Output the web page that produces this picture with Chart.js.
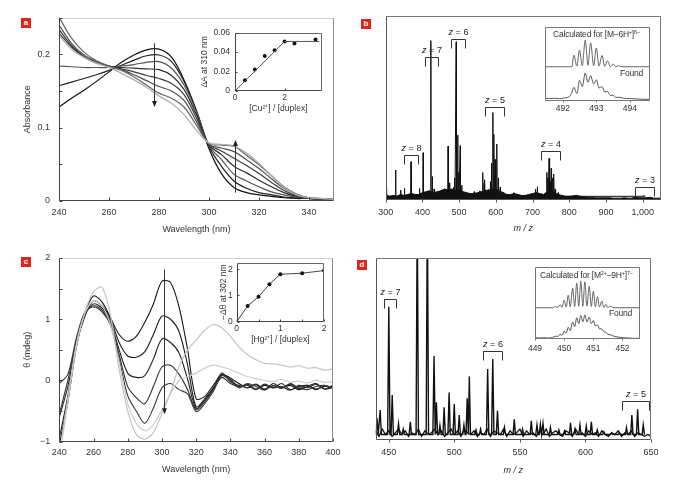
<!DOCTYPE html>
<html>
<head>
<meta charset="utf-8">
<script src="https://cdn.jsdelivr.net/npm/chart.js@4.4.1/dist/chart.umd.min.js"></script>
<style>
  body { margin: 0; background: #fff; }
  #page { position: relative; width: 685px; height: 496px; overflow: hidden; color: #333;
          font-family: 'Liberation Sans Narrow', 'Liberation Sans', Arial, sans-serif; }
  #page canvas { position: absolute; left: 0; top: 0; }
  .tag { position: absolute; width: 10px; height: 10px; background: #e2231a; color: #fff;
         font: bold 8px 'Liberation Sans', Arial, sans-serif; text-align: center; line-height: 10px; }
  .note { position: absolute; font-size: 8.5px; line-height: 10px; white-space: nowrap; letter-spacing: -0.2px; }
  .note sup { font-size: 5.5px; vertical-align: 3px; line-height: 0; }
</style>
</head>
<body>
<div id="page">
  <canvas id="chartA" width="685" height="496"></canvas>
  <canvas id="chartB" width="685" height="496"></canvas>
  <canvas id="chartC" width="685" height="496"></canvas>
  <canvas id="chartD" width="685" height="496"></canvas>
  <canvas id="insetA" width="685" height="496"></canvas>
  <canvas id="insetB" width="685" height="496"></canvas>
  <canvas id="insetC" width="685" height="496"></canvas>
  <canvas id="insetD" width="685" height="496"></canvas>

  <div class="tag" style="left:21px; top:18px;">a</div>
  <div class="tag" style="left:361px; top:19px;">b</div>
  <div class="tag" style="left:21px; top:257px;">c</div>
  <div class="tag" style="left:357px; top:260px;">d</div>

  <div class="note" style="left:553px; top:29px;">Calculated for [M&ndash;6H<sup>+</sup>]<sup>6&ndash;</sup></div>
  <div class="note" style="right:42px; top:68px;">Found</div>
  <div class="note" style="left:540px; top:270px;">Calculated for [M<sup>2+</sup>&ndash;9H<sup>+</sup>]<sup>7&ndash;</sup></div>
  <div class="note" style="right:53px; top:308px;">Found</div>
</div>

<script>
const W = 685, H = 496;
const FONT = "'Liberation Sans Narrow', 'Liberation Sans', Arial, sans-serif";

// ---------- panel a: UV titration ----------
const wlA = [240, 245, 250, 255, 260, 265, 270, 275, 280, 285, 290, 295, 300, 305, 310, 315, 320, 325, 330, 335, 340, 345, 350];
const absA1 = [0.128, 0.140, 0.151, 0.163, 0.176, 0.189, 0.199, 0.206, 0.207, 0.196, 0.165, 0.122, 0.071, 0.037, 0.018, 0.011, 0.008, 0.006, 0.004, 0.003, 0.003, 0.002, 0.002];
const absA2 = [0.157, 0.162, 0.167, 0.172, 0.178, 0.185, 0.192, 0.198, 0.199, 0.190, 0.163, 0.123, 0.074, 0.047, 0.027, 0.017, 0.011, 0.008, 0.005, 0.004, 0.003, 0.002, 0.002];
const absA3 = [0.184, 0.183, 0.182, 0.182, 0.182, 0.184, 0.186, 0.189, 0.190, 0.181, 0.158, 0.121, 0.075, 0.056, 0.036, 0.027, 0.019, 0.012, 0.008, 0.005, 0.003, 0.002, 0.002];
const absA4 = [0.234, 0.212, 0.197, 0.189, 0.184, 0.182, 0.181, 0.180, 0.179, 0.171, 0.152, 0.117, 0.076, 0.063, 0.047, 0.038, 0.028, 0.019, 0.011, 0.006, 0.003, 0.002, 0.002];
const absA5 = [0.229, 0.210, 0.196, 0.188, 0.184, 0.180, 0.176, 0.171, 0.167, 0.160, 0.145, 0.113, 0.077, 0.068, 0.058, 0.048, 0.037, 0.025, 0.014, 0.007, 0.004, 0.002, 0.002];
const absA6 = [0.240, 0.215, 0.199, 0.190, 0.184, 0.179, 0.172, 0.164, 0.156, 0.150, 0.137, 0.108, 0.077, 0.072, 0.067, 0.056, 0.044, 0.030, 0.017, 0.008, 0.004, 0.003, 0.002];
const absA7 = [0.251, 0.222, 0.203, 0.191, 0.184, 0.178, 0.169, 0.158, 0.147, 0.140, 0.128, 0.103, 0.078, 0.076, 0.074, 0.062, 0.049, 0.034, 0.019, 0.009, 0.004, 0.003, 0.002];
const absA8 = [0.226, 0.207, 0.196, 0.188, 0.182, 0.174, 0.165, 0.155, 0.143, 0.133, 0.118, 0.096, 0.079, 0.077, 0.075, 0.065, 0.051, 0.034, 0.018, 0.008, 0.004, 0.003, 0.002];
const arrowXA = [278, 310.5];
const arrowFromA = [0.215, 0.011];
const arrowToA = [0.128, 0.083];

// inset a
const cuRatio = [0, 0.4, 0.8, 1.2, 1.6, 2.0, 2.4, 3.25];
const cuDeltaA = [0, 0.011, 0.022, 0.036, 0.042, 0.051, 0.049, 0.053];
const cuFitX = [0, 2, 3.4];
const cuFitY = [0, 0.051, 0.051];

// ---------- panel b: ESI mass spectrum ----------
const peakMzB = [302, 327, 341, 351, 369, 380, 392, 402, 415, 423, 427, 432, 446, 455, 462, 470, 474, 480, 485, 488, 492, 496, 499, 503, 507, 512, 520, 541, 556, 564, 568, 570, 585, 588, 592, 595, 598, 600, 603, 607, 612, 620, 649, 660, 708, 713, 739, 742, 745, 748, 751, 755, 758, 762, 770, 820, 996, 1003, 1008];
const peakIntB = [0.07, 0.163, 0.054, 0.063, 0.208, 0.03, 0.063, 0.257, 0.05, 0.866, 0.127, 0.06, 0.035, 0.04, 0.05, 0.293, 0.094, 0.06, 0.07, 0.12, 0.86, 0.353, 0.15, 0.295, 0.08, 0.045, 0.04, 0.045, 0.05, 0.149, 0.09, 0.11, 0.10, 0.20, 0.475, 0.357, 0.22, 0.18, 0.304, 0.12, 0.07, 0.04, 0.04, 0.03, 0.058, 0.072, 0.15, 0.12, 0.226, 0.10, 0.172, 0.12, 0.141, 0.06, 0.04, 0.018, 0.022, 0.025, 0.02];
const baseStartB = 300, baseStepB = 10;
const baseB = [0.03, 0.02, 0.025, 0.02, 0.03, 0.025, 0.03, 0.035, 0.03, 0.03,
               0.04, 0.045, 0.05, 0.04, 0.045, 0.05, 0.06, 0.055, 0.06, 0.05,
               0.055, 0.045, 0.04, 0.035, 0.035, 0.04, 0.045, 0.05, 0.055, 0.06,
               0.06, 0.05, 0.04, 0.03, 0.03, 0.035, 0.03, 0.025, 0.025, 0.03,
               0.035, 0.04, 0.035, 0.03, 0.045, 0.05, 0.04, 0.03, 0.025, 0.02,
               0.02, 0.022, 0.025, 0.02, 0.018, 0.015, 0.015, 0.012, 0.012, 0.012,
               0.012, 0.012, 0.01, 0.01, 0.01, 0.012, 0.01, 0.01, 0.015, 0.012,
               0.012, 0.012, 0.015, 0.01, 0.01, 0.01];
const zB = ['8', '7', '6', '5', '4', '3'];
const zFromB = [350, 408, 479, 570, 723, 980];
const zToB = [387, 442, 515, 622, 775, 1032];
const zTopB = [0.245, 0.779, 0.873, 0.504, 0.268, 0.072];

// inset b (upper half: calculated, lower half: found)
const calcMzB = [491.4, 492.2, 492.27, 492.33, 492.42, 492.50, 492.58, 492.67, 492.75, 492.83, 492.92, 493.00, 493.08, 493.17, 493.25, 493.33, 493.42, 493.50, 493.58, 493.67, 493.75, 494.7];
const calcIntB = [1, 1, 1.0, 1.34, 1.02, 1.49, 1.03, 1.78, 1.04, 1.70, 1.03, 1.55, 1.02, 1.33, 1.01, 1.18, 1.0, 1.08, 1.0, 1.03, 1, 1];
const foundMzB = [491.47, 491.6, 491.75, 491.9, 492.05, 492.2, 492.27, 492.33, 492.42, 492.50, 492.58, 492.67, 492.75, 492.83, 492.92, 493.00, 493.08, 493.17, 493.25, 493.33, 493.42, 493.50, 493.58, 493.67, 493.8, 494.0, 494.2, 494.4, 494.6];
const foundIntB = [0.08, 0.07, 0.08, 0.07, 0.09, 0.13, 0.25, 0.40, 0.22, 0.60, 0.42, 0.82, 0.55, 0.74, 0.50, 0.62, 0.38, 0.42, 0.26, 0.28, 0.16, 0.17, 0.10, 0.11, 0.08, 0.07, 0.06, 0.05, 0.05];

// ---------- panel c: CD titration ----------
const wlC = [240, 245, 250, 255, 260, 265, 270, 275, 280, 285, 290, 295, 300, 305, 310, 315, 320, 325, 330, 335, 340, 345, 350, 355, 360, 365, 370, 375, 380, 385, 390, 395, 400];
const cdC1 = [-1.05, -0.35, 0.55, 1.10, 1.38, 1.28, 1.02, 0.75, 0.64, 0.72, 0.95, 1.25, 1.62, 1.60, 1.20, 0.50, -0.30, -0.26, -0.08, 0.10, 0.04, -0.05, -0.12, -0.07, -0.15, -0.05, -0.12, -0.08, -0.15, -0.10, -0.05, -0.14, -0.08];
const cdC2 = [-0.95, -0.25, 0.58, 1.05, 1.30, 1.22, 1.00, 0.62, 0.40, 0.38, 0.47, 0.75, 1.05, 1.00, 0.80, 0.25, -0.43, -0.30, -0.12, 0.08, 0.02, -0.10, -0.06, -0.14, -0.08, -0.12, -0.05, -0.15, -0.10, -0.08, -0.14, -0.10, -0.12];
const cdC3 = [-0.60, -0.10, 0.62, 1.08, 1.25, 1.18, 0.95, 0.50, 0.12, 0.05, 0.08, 0.35, 0.68, 0.62, 0.45, 0.02, -0.46, -0.32, -0.15, 0.12, -0.02, -0.08, -0.12, -0.06, -0.14, -0.09, -0.12, -0.06, -0.13, -0.08, -0.15, -0.09, -0.11];
const cdC4 = [-0.55, 0.00, 0.65, 1.10, 1.22, 1.15, 0.92, 0.42, -0.10, -0.28, -0.38, -0.10, 0.22, 0.25, 0.10, -0.15, -0.48, -0.35, -0.15, 0.05, -0.05, -0.10, -0.08, -0.15, -0.06, -0.12, -0.10, -0.16, -0.08, -0.12, -0.06, -0.14, -0.12];
const cdC5 = [-0.05, 0.10, 0.70, 1.12, 1.20, 1.12, 0.90, 0.35, -0.25, -0.50, -0.70, -0.45, -0.12, -0.05, -0.15, -0.22, -0.51, -0.38, -0.18, 0.08, 0.00, -0.12, -0.05, -0.10, -0.16, -0.08, -0.13, -0.05, -0.12, -0.15, -0.10, -0.08, -0.12];
const cdC6 = [-1.20, -0.30, 0.60, 1.10, 1.30, 1.22, 0.90, 0.30, -0.38, -0.70, -0.82, -0.72, -0.48, -0.21, 0.00, 0.06, 0.12, 0.20, 0.25, 0.22, 0.18, 0.12, 0.06, 0.03, 0.00, -0.02, 0.02, -0.03, -0.01, -0.04, 0.00, -0.03, -0.02];
const cdC7 = [-1.30, -0.35, 0.55, 1.12, 1.45, 1.52, 1.05, 0.18, -0.50, -0.88, -0.96, -0.85, -0.54, -0.20, 0.23, 0.50, 0.66, 0.82, 0.91, 0.86, 0.72, 0.55, 0.42, 0.34, 0.28, 0.27, 0.25, 0.22, 0.24, 0.20, 0.21, 0.17, 0.19];
const arrowXC = [301];
const arrowFromC = [1.81];
const arrowToC = [-0.55];

// inset c
const hgRatio = [0, 0.25, 0.5, 0.75, 1, 1.5, 2];
const hgDeltaTheta = [0, 0.6, 0.95, 1.43, 1.81, 1.85, 1.95];

// ---------- panel d: ESI mass spectrum with Hg ----------
const peakMzD = [441, 443.4, 450, 452.6, 457.4, 461, 466.4, 471.7, 479.4, 484.5, 486.3, 489, 492.2, 496, 499.9, 503.7, 507.3, 509.8, 511.4, 516.5, 520, 525.4, 529.3, 532.9, 538.2, 545.7, 552, 558.7, 563, 565.6, 567.6, 573.3, 579.7, 584, 588.6, 592, 595.8, 600.6, 604.5, 609, 614, 620, 626, 631.3, 635.4, 639.8, 644.1];
const peakIntD = [0.12, 0.165, 0.734, 0.248, 0.09, 0.06, 0.10, 1.3, 1.3, 0.462, 0.207, 0.08, 0.18, 0.262, 0.198, 0.138, 0.083, 0.229, 0.349, 0.055, 0.06, 0.39, 0.446, 0.161, 0.07, 0.114, 0.06, 0.105, 0.083, 0.086, 0.092, 0.07, 0.055, 0.05, 0.095, 0.06, 0.083, 0.077, 0.10, 0.055, 0.045, 0.04, 0.04, 0.068, 0.138, 0.169, 0.083];
const baseStartD = 440, baseStepD = 2.5;
const baseD = [0.05, 0.02, 0.06, 0.03, 0.05, 0.02, 0.04, 0.06, 0.03, 0.05,
               0.02, 0.04, 0.03, 0.06, 0.02, 0.05, 0.03, 0.04, 0.06, 0.03,
               0.05, 0.02, 0.04, 0.06, 0.03, 0.05, 0.02, 0.06, 0.04, 0.03,
               0.05, 0.02, 0.04, 0.03, 0.06, 0.02, 0.05, 0.04, 0.03, 0.06,
               0.02, 0.05, 0.03, 0.04, 0.06, 0.02, 0.05, 0.03, 0.04, 0.02,
               0.05, 0.03, 0.06, 0.02, 0.04, 0.05, 0.03, 0.02, 0.05, 0.04,
               0.02, 0.06, 0.03, 0.04, 0.02, 0.05, 0.03, 0.04, 0.02, 0.05,
               0.03, 0.02, 0.04, 0.03, 0.05, 0.02, 0.04, 0.03, 0.05, 0.02,
               0.04, 0.03, 0.02, 0.03, 0.02];
const zD = ['7', '6', '5'];
const zFromD = [446.7, 522, 627.5];
const zToD = [455.6, 536.7, 648.7];
const zTopD = [0.774, 0.49, 0.215];

// inset d
const calcMzD = [448.9, 449.6, 449.71, 449.78, 449.86, 449.93, 450.00, 450.07, 450.14, 450.21, 450.29, 450.36, 450.43, 450.50, 450.57, 450.64, 450.71, 450.78, 450.86, 450.93, 451.00, 451.07, 451.14, 451.21, 451.29, 451.36, 451.43, 451.50, 451.57, 451.7, 452.7];
const calcIntD = [1, 1, 1.04, 1.0, 1.10, 1.01, 1.24, 1.02, 1.40, 1.03, 1.62, 1.04, 1.78, 1.05, 1.84, 1.05, 1.82, 1.05, 1.68, 1.04, 1.52, 1.03, 1.35, 1.02, 1.21, 1.01, 1.11, 1.0, 1.05, 1, 1];
const foundMzD = [449.0, 449.15, 449.3, 449.45, 449.6, 449.71, 449.78, 449.86, 449.93, 450.00, 450.07, 450.14, 450.21, 450.29, 450.36, 450.43, 450.50, 450.57, 450.64, 450.71, 450.78, 450.86, 450.93, 451.00, 451.07, 451.14, 451.21, 451.29, 451.36, 451.43, 451.50, 451.57, 451.7, 451.85, 452.0, 452.2, 452.4, 452.6];
const foundIntD = [0.06, 0.04, 0.05, 0.04, 0.06, 0.10, 0.09, 0.16, 0.13, 0.26, 0.20, 0.38, 0.28, 0.55, 0.40, 0.68, 0.50, 0.76, 0.55, 0.77, 0.55, 0.70, 0.50, 0.60, 0.42, 0.46, 0.33, 0.33, 0.24, 0.22, 0.16, 0.15, 0.10, 0.07, 0.05, 0.04, 0.03, 0.03];

// ---------- helpers ----------
function xy(xs, ys) {
  return xs.map((x, i) => ({ x: x, y: ys[i] }));
}

// each mass peak drawn as a narrow spike rising from the baseline
function spikes(centers, heights, half, foot) {
  const pts = [];
  centers.forEach((c, i) => {
    pts.push({ x: c - half, y: foot }, { x: c, y: heights[i] }, { x: c + half, y: foot });
  });
  return pts;
}

function grid(start, step, values) {
  return values.map((v, i) => ({ x: start + i * step, y: v }));
}

function line(data, color, width, extra) {
  return Object.assign({ data: data, borderColor: color, borderWidth: width, pointRadius: 0, fill: false }, extra || {});
}

function axis(o) {
  return {
    type: 'linear', min: o.min, max: o.max, display: o.display !== false,
    afterFit: s => { if (o.horizontal) s.height = o.size; else s.width = o.size; },
    grid: { display: false, drawTicks: false },
    border: { display: false },
    ticks: {
      stepSize: o.step, includeBounds: false, autoSkip: false, maxRotation: 0,
      padding: o.pad, color: '#333', font: { family: FONT, size: o.fs },
      callback: o.fmt
    },
    title: {
      display: !!o.title, text: o.title, color: '#333', padding: 0,
      font: { family: FONT, size: o.fs, style: o.italic ? 'italic' : 'normal' }
    }
  };
}

// draws the plot frame and the tick marks from the scale ticks
const framePlugin = {
  id: 'frame',
  afterDatasetsDraw(chart, args, o) {
    const { ctx, chartArea: a, scales } = chart;
    const L = Math.round(a.left) + 0.5, R = Math.round(a.right) - 0.5;
    const T = Math.round(a.top) + 0.5, B = Math.round(a.bottom) - 0.5;
    ctx.save();
    ctx.lineWidth = 1;
    ctx.strokeStyle = o.topColor || o.boxColor;
    ctx.beginPath(); ctx.moveTo(L, T); ctx.lineTo(R, T); ctx.stroke();
    ctx.strokeStyle = o.boxColor;
    ctx.beginPath(); ctx.moveTo(R, T); ctx.lineTo(R, B); ctx.stroke();
    ctx.strokeStyle = o.axisColor;
    ctx.beginPath(); ctx.moveTo(L, T); ctx.lineTo(L, B); ctx.lineTo(R, B); ctx.stroke();
    const d = o.inward ? -1 : 1;
    ctx.beginPath();
    scales.x.ticks.forEach(t => {
      const px = Math.round(scales.x.getPixelForValue(t.value)) + 0.5;
      ctx.moveTo(px, B); ctx.lineTo(px, B + d * o.len);
    });
    if (o.yTicks) {
      scales.y.ticks.forEach(t => {
        const py = Math.round(scales.y.getPixelForValue(t.value)) + 0.5;
        ctx.moveTo(L, py); ctx.lineTo(L - d * o.len, py);
      });
    }
    ctx.stroke();
    ctx.restore();
  }
};

// charge-state brackets and titration arrows, placed in data units
const marksPlugin = {
  id: 'marks',
  afterDatasetsDraw(chart, args, o) {
    const { ctx, scales: { x, y } } = chart;
    ctx.save();
    ctx.strokeStyle = '#333';
    ctx.fillStyle = '#222';
    ctx.lineWidth = 1;
    if (o.brackets) {
      const b = o.brackets;
      b.z.forEach((z, i) => {
        const x1 = Math.round(x.getPixelForValue(b.from[i])) + 0.5;
        const x2 = Math.round(x.getPixelForValue(b.to[i])) + 0.5;
        const yt = Math.round(y.getPixelForValue(b.top[i])) + 0.5;
        ctx.beginPath();
        ctx.moveTo(x1, yt + 9); ctx.lineTo(x1, yt); ctx.lineTo(x2, yt); ctx.lineTo(x2, yt + 9);
        ctx.stroke();
        ctx.font = 'italic 9px ' + FONT;
        const w1 = ctx.measureText('z').width;
        ctx.font = '9px ' + FONT;
        const rest = ' = ' + z;
        const w2 = ctx.measureText(rest).width;
        const sx = (x1 + x2) / 2 - (w1 + w2) / 2;
        ctx.textBaseline = 'middle';
        ctx.textAlign = 'left';
        ctx.font = 'italic 9px ' + FONT;
        ctx.fillText('z', sx, yt - 7);
        ctx.font = '9px ' + FONT;
        ctx.fillText(rest, sx + w1, yt - 7);
      });
    }
    if (o.arrows) {
      const r = o.arrows;
      r.x.forEach((xv, i) => {
        const px = Math.round(x.getPixelForValue(xv)) + 0.5;
        const p1 = y.getPixelForValue(r.from[i]);
        const p2 = y.getPixelForValue(r.to[i]);
        const dir = p2 > p1 ? 1 : -1;
        ctx.beginPath(); ctx.moveTo(px, p1); ctx.lineTo(px, p2 - dir * 5); ctx.stroke();
        ctx.beginPath();
        ctx.moveTo(px, p2); ctx.lineTo(px - 2.5, p2 - dir * 6); ctx.lineTo(px + 2.5, p2 - dir * 6);
        ctx.closePath(); ctx.fill();
      });
    }
    ctx.restore();
  }
};

Chart.register(framePlugin, marksPlugin);

function build(id, p, datasets, scaleX, scaleY, frame, marks) {
  return new Chart(document.getElementById(id), {
    type: 'line',
    data: { datasets: datasets },
    options: {
      responsive: false, animation: false, events: [],
      layout: { padding: { left: p.l - p.yw, top: p.t, right: W - p.r, bottom: H - p.b - p.xh } },
      plugins: { legend: { display: false }, tooltip: { enabled: false }, frame: frame, marks: marks || {} },
      scales: { x: scaleX, y: scaleY }
    }
  });
}

const mainFrame = { boxColor: '#8a8a8a', topColor: '#d0d0d0', axisColor: '#444', inward: true, len: 3, yTicks: true };
const specFrame = { boxColor: '#777', axisColor: '#555', inward: false, len: 3, yTicks: false };
const insetFrame = { boxColor: '#666', axisColor: '#444', inward: true, len: 2, yTicks: true };
const insetSpecFrame = { boxColor: '#777', axisColor: '#777', inward: false, len: 2, yTicks: false };

const fmtMinus = v => (v < 0 ? '\u2212' + (-v) : String(v));

// panel a
build('chartA', { l: 59, r: 334, t: 17.7, b: 200.7, yw: 37, xh: 34 },
  [
    line(xy(wlA, absA8), '#b0b0b0', 1.3, { tension: 0.35 }),
    line(xy(wlA, absA7), '#666', 1.2, { tension: 0.35 }),
    line(xy(wlA, absA6), '#4e4e4e', 1.2, { tension: 0.35 }),
    line(xy(wlA, absA5), '#3c3c3c', 1.2, { tension: 0.35 }),
    line(xy(wlA, absA4), '#2e2e2e', 1.2, { tension: 0.35 }),
    line(xy(wlA, absA3), '#555', 1.2, { tension: 0.35 }),
    line(xy(wlA, absA2), '#222', 1.2, { tension: 0.35 }),
    line(xy(wlA, absA1), '#111', 1.2, { tension: 0.35 })
  ],
  axis({ min: 240, max: 350, step: 20, pad: 6, fs: 9, horizontal: true, size: 34, title: 'Wavelength (nm)' }),
  axis({ min: 0, max: 0.25, step: 0.05, pad: 9, fs: 9, size: 37, title: 'Absorbance',
         fmt: v => { const k = Math.round(v * 100); return (k % 10 === 0 && k < 25) ? (k === 0 ? '0' : (k / 100).toFixed(1)) : ''; } }),
  mainFrame,
  { arrows: { x: arrowXA, from: arrowFromA, to: arrowToA } }
);

// inset a
build('insetA', { l: 235, r: 321.7, t: 32.7, b: 91, yw: 35.4, xh: 22.4 },
  [
    line(xy(cuFitX, cuFitY), '#555', 1),
    line(xy(cuRatio, cuDeltaA), '#111', 0, { showLine: false, pointRadius: 2, pointBackgroundColor: '#111', pointBorderWidth: 0 })
  ],
  axis({ min: 0, max: 3.5, step: 2, pad: 1.6, fs: 8.5, horizontal: true, size: 22.4, title: '[Cu\u00b2\u207a] / [duplex]' }),
  axis({ min: 0, max: 0.06, step: 0.02, pad: 5, fs: 8.5, size: 35.4, title: '\u0394A at 310 nm',
         fmt: v => (v === 0 ? '0' : v.toFixed(2)) }),
  insetFrame
);

// panel b
build('chartB', { l: 385.7, r: 661, t: 16, b: 200, yw: 0, xh: 34 },
  [
    line(grid(baseStartB, baseStepB, baseB), '#111', 1, { fill: 'origin', backgroundColor: '#111' }),
    line(spikes(peakMzB, peakIntB, 0.8, 0.02), '#111', 1)
  ],
  axis({ min: 300, max: 1050, step: 100, pad: 7, fs: 9, horizontal: true, size: 34, title: 'm / z', italic: true,
         fmt: v => v.toLocaleString('en-US') }),
  axis({ min: 0, max: 1, display: false, size: 0 }),
  specFrame,
  { brackets: { z: zB, from: zFromB, to: zToB, top: zTopB } }
);

// inset b
build('insetB', { l: 545, r: 650, t: 26.7, b: 101, yw: 0, xh: 16 },
  [
    line(xy(calcMzB, calcIntB), '#666', 1, { cubicInterpolationMode: 'monotone' }),
    line(xy(foundMzB, foundIntB), '#555', 1, { cubicInterpolationMode: 'monotone' })
  ],
  axis({ min: 491.47, max: 494.6, step: 1, pad: 2.6, fs: 8.5, horizontal: true, size: 16 }),
  axis({ min: 0, max: 2.17, display: false, size: 0 }),
  insetSpecFrame
);

// panel c
build('chartC', { l: 59.3, r: 333, t: 258, b: 441.7, yw: 37, xh: 33.6 },
  [
    line(xy(wlC, cdC7), '#c4c4c4', 1.2, { tension: 0.3 }),
    line(xy(wlC, cdC6), '#cdcdcd', 1.2, { tension: 0.3 }),
    line(xy(wlC, cdC5), '#3a3a3a', 1.1, { tension: 0.3 }),
    line(xy(wlC, cdC4), '#2e2e2e', 1.1, { tension: 0.3 }),
    line(xy(wlC, cdC3), '#262626', 1.1, { tension: 0.3 }),
    line(xy(wlC, cdC2), '#1e1e1e', 1.1, { tension: 0.3 }),
    line(xy(wlC, cdC1), '#151515', 1.1, { tension: 0.3 })
  ],
  axis({ min: 240, max: 400, step: 20, pad: 5.6, fs: 9, horizontal: true, size: 33.6, title: 'Wavelength (nm)' }),
  axis({ min: -1, max: 2, step: 0.5, pad: 9, fs: 9, size: 37, title: '\u03b8 (mdeg)',
         fmt: v => (Number.isInteger(v) ? fmtMinus(v) : '') }),
  mainFrame,
  { arrows: { x: arrowXC, from: arrowFromC, to: arrowToC } }
);

// inset c
build('insetC', { l: 236.7, r: 324, t: 262.7, b: 321.7, yw: 18.1, xh: 22.7 },
  [
    line(xy(hgRatio, hgDeltaTheta), '#444', 1, { pointRadius: 2, pointBackgroundColor: '#111', pointBorderWidth: 0 })
  ],
  axis({ min: 0, max: 2, step: 0.5, pad: 1.9, fs: 8.5, horizontal: true, size: 22.7, title: '[Hg\u00b2\u207a] / [duplex]',
         fmt: v => (Number.isInteger(v) ? String(v) : '') }),
  axis({ min: 0, max: 2.25, step: 1, pad: 4, fs: 8.5, size: 18.1, title: '\u2212\u0394\u03b8 at 302 nm' }),
  insetFrame
);

// panel d
build('chartD', { l: 375.7, r: 651, t: 258.3, b: 440, yw: 0, xh: 36 },
  [
    line(grid(baseStartD, baseStepD, baseD), '#111', 1.3),
    line(spikes(peakMzD, peakIntD, 0.9, 0.03), '#111', 1.4)
  ],
  axis({ min: 440, max: 650, step: 50, pad: 7, fs: 9, horizontal: true, size: 36, title: 'm / z', italic: true }),
  axis({ min: 0, max: 1, display: false, size: 0 }),
  specFrame,
  { brackets: { z: zD, from: zFromD, to: zToD, top: zTopD } }
);

// inset d
build('insetD', { l: 535, r: 640, t: 267.3, b: 339.3, yw: 0, xh: 16 },
  [
    line(xy(calcMzD, calcIntD), '#666', 1, { cubicInterpolationMode: 'monotone' }),
    line(xy(foundMzD, foundIntD), '#555', 1, { cubicInterpolationMode: 'monotone' })
  ],
  axis({ min: 449, max: 452.6, step: 1, pad: 4.3, fs: 8.5, horizontal: true, size: 16 }),
  axis({ min: 0, max: 2.28, display: false, size: 0 }),
  insetSpecFrame
);
</script>
</body>
</html>
